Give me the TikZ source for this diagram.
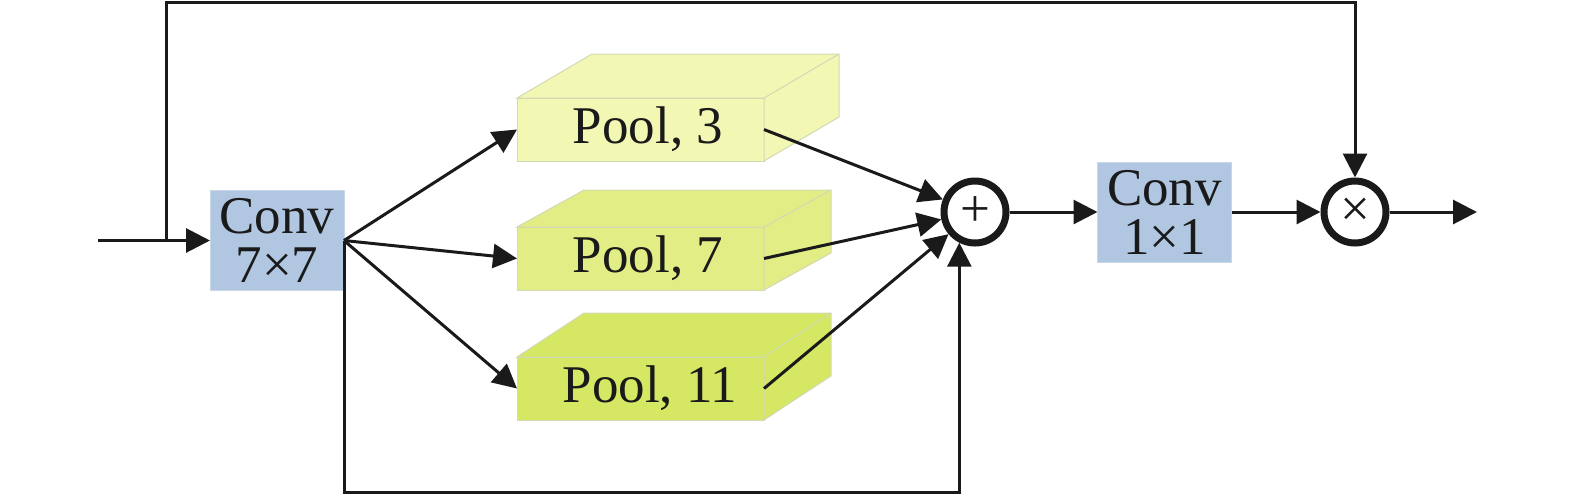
\documentclass[tikz,border=0pt]{standalone}
\usepackage{fontspec}
\setmainfont{Liberation Serif}
\usetikzlibrary{arrows.meta}
\definecolor{convblue}{HTML}{B0C6E1}
\definecolor{convedge}{HTML}{C9D6E6}
\definecolor{poolA}{HTML}{F2F7B4}
\definecolor{poolB}{HTML}{E2ED86}
\definecolor{poolC}{HTML}{D6E764}
\definecolor{pooledge}{HTML}{D3D9B4}
\definecolor{ink}{HTML}{1A1A1A}
\tikzset{
  lbl/.style={font=\fontsize{26.5}{24.5}\selectfont, align=center, text=ink, inner sep=0pt},
  convbox/.style={draw=convedge, line width=0.5pt, fill=convblue, minimum width=67pt, minimum height=50pt, inner sep=0pt, outer sep=0pt, lbl},
  poolface/.style={draw=pooledge, line width=0.5pt, minimum width=123.5pt, minimum height=31.5pt, inner sep=0pt, outer sep=0pt},
  opnode/.style={circle, draw=ink, line width=3.5pt, minimum size=31pt, inner sep=0pt, fill=white, font=\fontsize{26.5}{26.5}\selectfont, text=ink},
  arr/.style={draw=ink, line width=1.5pt, -{Triangle[length=12pt,width=12pt]}},
}
\newcommand{\poolbox}[5]{% name, center, color, depth x, depth y
  \node[poolface, fill=#3] (#1) at #2 {};
  \draw[pooledge, line width=0.5pt, fill=#3] (#1.north west) -- ++(#4,-#5) -- ++(247,0) -- ++(0,63) -- (#1.south east) -- (#1.north east) -- cycle;
  \draw[pooledge, line width=0.5pt] (#1.north east) -- ++(#4,-#5);
}
\begin{document}
\begin{tikzpicture}[x=0.5pt, y=-0.5pt]
\useasboundingbox (0,0) rectangle (1575,500);

% boxes
\node[convbox] (c7) at (277,240.5) {Conv\\7×7};
\node[convbox] (c1) at (1164.5,212) {Conv\\1×1};

\poolbox{p3}{(640.5,129.5)}{poolA}{75}{44}
\poolbox{p7}{(640.5,258.5)}{poolB}{67}{37}
\poolbox{p11}{(640.5,388.5)}{poolC}{67}{44}
\node[lbl] (t3) at (648,129.5) {Pool, 3};
\node[lbl] (t7) at (648,258.5) {Pool, 7};
\node[lbl] (t11) at (650,388.5) {Pool, 11};

\node[opnode] (plus) at (975,212) {+};
\node[opnode] (times) at (1355,212) {×};

% coordinates
\coordinate (in) at (98,240.5);
\coordinate (split) at (166,240.5);
\coordinate (topL) at (166,2.5);
\coordinate (bot) at (344,492);
\coordinate (out) at (1477,212);

% connectors
\draw[arr] (in) -- (c7.west);
\draw[arr] (split) -- (topL) -| (times);
\draw[arr] (c7.east) -- (p3.west);
\draw[arr] (c7.east) -- (p7.west);
\draw[arr] (c7.east) -- (p11.west);
\draw[arr] (c7.east) -- (bot) -| (plus.243);
\draw[arr] (p3.east) -- (plus);
\draw[arr] (p7.east) -- (plus);
\draw[arr] (p11.east) -- (plus);
\draw[arr] (plus) -- (c1.west);
\draw[arr] (c1.east) -- (times);
\draw[arr] (times) -- (out);
\end{tikzpicture}
\end{document}
